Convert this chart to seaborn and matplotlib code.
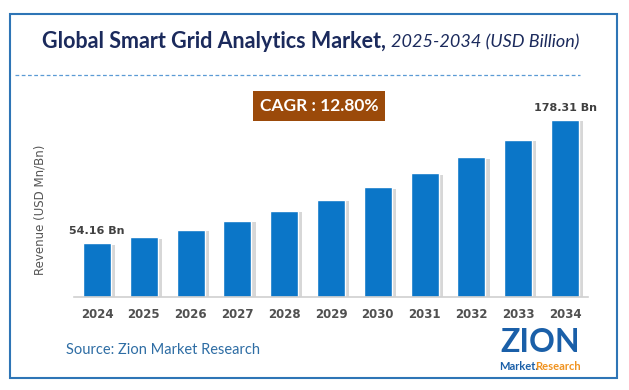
import matplotlib
matplotlib.use("Agg")
import matplotlib.pyplot as plt
import matplotlib.patheffects as pe
from matplotlib.patches import Rectangle
from matplotlib.lines import Line2D
import seaborn as sns
import pandas as pd

years = ["2024", "2025", "2026", "2027", "2028", "2029",
         "2030", "2031", "2032", "2033", "2034"]
revenue = [54.16, 60.1, 67.8, 76.9, 86.6, 97.7, 110.5, 124.6, 140.7, 158.2, 178.31]
shown_labels = {0: "54.16 Bn", 10: "178.31 Bn"}
cagr_text = "CAGR : 12.80%"

W, H = 629, 390
df = pd.DataFrame({"year": years, "revenue": revenue})

sns.set_style("white")
plt.rcParams["font.family"] = ["DejaVu Sans"]

fig = plt.figure(figsize=(W / 100, H / 100), dpi=100)

def fx(px):
    return px / W

def fy(py):
    return 1 - py / H

# axes: baseline at y=297 px, x from 74 to 588 px
ax = fig.add_axes([fx(74), fy(297), fx(588 - 74), (297 - 100) / H])
sns.barplot(data=df, x="year", y="revenue", color="#0b76c8", width=0.6,
            saturation=1, ax=ax)
for bar in ax.patches:
    bar.set_path_effects([pe.SimplePatchShadow(offset=(3, -1), shadow_rgbFace="#a8a8a8", alpha=0.45),
                          pe.Normal()])

ax.set_xlim(-0.49, 10.49)
ax.set_ylim(0, revenue[-1] * 197 / 177)
for s in ["top", "right", "left"]:
    ax.spines[s].set_visible(False)
ax.spines["bottom"].set_color("#d0d0d0")
ax.spines["bottom"].set_linewidth(1.2)
ax.set_yticks([])
ax.set_xlabel("")
ax.set_ylabel("")
ax.tick_params(axis="x", length=0, pad=8)
for t in ax.get_xticklabels():
    t.set_fontweight("bold")
    t.set_fontsize(8.5)
    t.set_color("#505050")

for i, lab in shown_labels.items():
    ax.annotate(lab, (i, revenue[i]), xytext=(0, 5), textcoords="offset points",
                ha="center", va="bottom", fontsize=8, fontweight="bold", color="#404040")

fig.text(fx(40), fy(210), "Revenue (USD Mn/Bn)", rotation=90, ha="center", va="center",
         fontsize=8.5, color="#555555")

# outer border
fig.patches.append(Rectangle((fx(10), fy(378)), fx(617 - 10), (378 - 14) / H,
                             transform=fig.transFigure, fill=False,
                             edgecolor="#2e75b6", linewidth=1.5))
# dashed separator
fig.lines.append(Line2D([fx(15), fx(580)], [fy(75), fy(75)], transform=fig.transFigure,
                        color="#5b9bd5", linestyle=(0, (3, 2)), linewidth=0.9))

# title
fig.text(fx(386), fy(41), "Global Smart Grid Analytics Market,", ha="right", va="center",
         fontsize=15.5, fontweight="bold", color="#1b2a5c", family="Lato")
fig.text(fx(391), fy(42), "2025-2034 (USD Billion)", ha="left", va="center",
         fontsize=13, fontstyle="italic", color="#1b2a5c", family="Lato")

# CAGR box
fig.text(fx(319), fy(106), cagr_text, ha="center", va="center", fontsize=12.5,
         fontweight="bold", color="white", family="Lato",
         bbox=dict(boxstyle="square,pad=0.38", facecolor="#9b4a0a", edgecolor="none"))

# source
fig.text(fx(66), fy(350), "Source: Zion Market Research", ha="left", va="center",
         fontsize=10.5, color="#2e6da4", family="Lato")

# logo
fig.text(fx(540), fy(342), "ZION", ha="center", va="center", fontsize=23,
         fontweight="bold", color="#1a5fa8", family="Lato")
fig.text(fx(519), fy(367), "Market.", ha="center", va="center", fontsize=8,
         fontweight="bold", color="#1a5fa8", family="Lato")
fig.text(fx(558), fy(367), "Research", ha="center", va="center", fontsize=8,
         fontweight="bold", color="#f0921e", family="Lato")

fig.savefig("out.png", dpi=100)
